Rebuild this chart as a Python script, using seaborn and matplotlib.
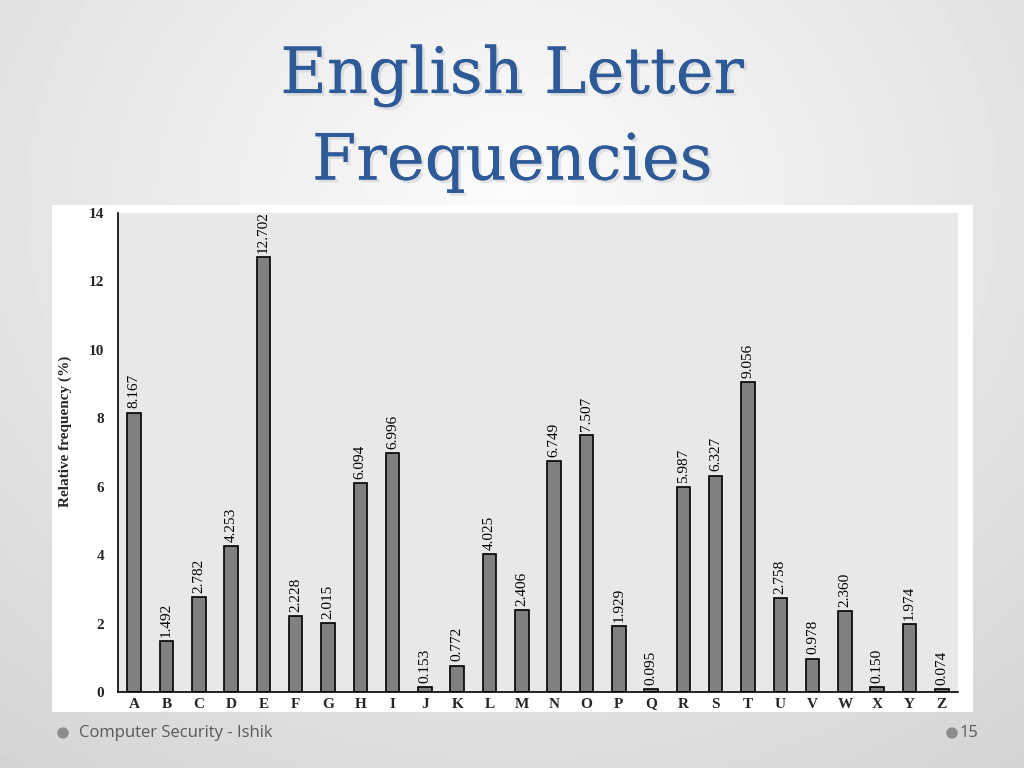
import numpy as np
import pandas as pd
import matplotlib
matplotlib.use("Agg")
import matplotlib.pyplot as plt
import matplotlib.patheffects as pe
import seaborn as sns

letters = list("ABCDEFGHIJKLMNOPQRSTUVWXYZ")
freqs = [8.167, 1.492, 2.782, 4.253, 12.702, 2.228, 2.015, 6.094, 6.996, 0.153,
         0.772, 4.025, 2.406, 6.749, 7.507, 1.929, 0.095, 5.987, 6.327, 9.056,
         2.758, 0.978, 2.360, 0.150, 1.974, 0.074]
yticks = [0, 2, 4, 6, 8, 10, 12, 14]

df = pd.DataFrame({"letter": letters, "freq": freqs})

sns.set_theme(style="white")
plt.rcParams["font.family"] = ["Liberation Serif", "DejaVu Serif"]

fig = plt.figure(figsize=(10.24, 7.68), dpi=100)

# slide background gradient
bg = fig.add_axes([0, 0, 1, 1], zorder=0)
yy, xx = np.mgrid[0:768, 0:1024]
d = np.sqrt(((xx - 512) / 700.0) ** 2 + ((yy - 200) / 600.0) ** 2)
val = 0.985 - 0.13 * np.clip(d, 0, 1.2)
bg.imshow(val, cmap="gray", vmin=0, vmax=1, extent=[0, 1024, 768, 0], aspect="auto")
bg.set_xlim(0, 1024)
bg.set_ylim(768, 0)
bg.axis("off")

# white panel
bg.add_patch(plt.Rectangle((52, 205), 921, 507, facecolor="white", edgecolor="none"))

# title
for i, line in enumerate(["English Letter", "Frequencies"]):
    bg.text(512, 76 + i * 86, line, ha="center", va="center", fontsize=46,
            color="#2f5a98", family=["DejaVu Serif"],
            path_effects=[pe.withSimplePatchShadow(offset=(2, -2), shadow_rgbFace="#b0b6c0", alpha=0.35), pe.Normal()])

# footer
bg.add_patch(plt.Circle((63, 733), 5, color="#8c8c8c"))
bg.text(79, 733, "Computer Security - Ishik", ha="left", va="center", fontsize=12,
        color="#595959", family=["Open Sans", "DejaVu Sans"])
bg.add_patch(plt.Circle((952, 733), 5, color="#8c8c8c"))
bg.text(960, 733, "15", ha="left", va="center", fontsize=12,
        color="#595959", family=["Open Sans", "DejaVu Sans"])

ax = fig.add_axes([118 / 1024, 1 - 692 / 768, 840 / 1024, 479 / 768], zorder=2)
ax.set_facecolor("#e8e8e8")
sns.barplot(data=df, x="letter", y="freq", color="#808080", edgecolor="black",
            linewidth=1.2, width=0.42, saturation=1, ax=ax)
for i, v in enumerate(freqs):
    ax.text(i, v + 0.12, f"{v:.3f}", rotation=90, ha="center", va="bottom",
            fontsize=11, color="black")

ax.set_xlim(-0.5, 25.5)
ax.set_ylim(0, 14)
ax.set_yticks(yticks)
ax.set_yticklabels([str(t) for t in yticks], fontweight="bold", fontsize=11)
ax.set_xticks(range(len(letters)))
ax.set_xticklabels(letters, fontweight="bold", fontsize=11)
ax.tick_params(axis="both", length=0)
ax.tick_params(axis="x", pad=4)
ax.tick_params(axis="y", pad=10)
ax.set_xlabel("")
ax.set_ylabel("Relative frequency (%)", fontweight="bold", fontsize=11)
ax.yaxis.set_label_coords(-0.055, 0.545)
for s in ["top", "right"]:
    ax.spines[s].set_visible(False)
for s in ["left", "bottom"]:
    ax.spines[s].set_color("black")
    ax.spines[s].set_linewidth(1.2)

fig.savefig("out.png", dpi=100)
